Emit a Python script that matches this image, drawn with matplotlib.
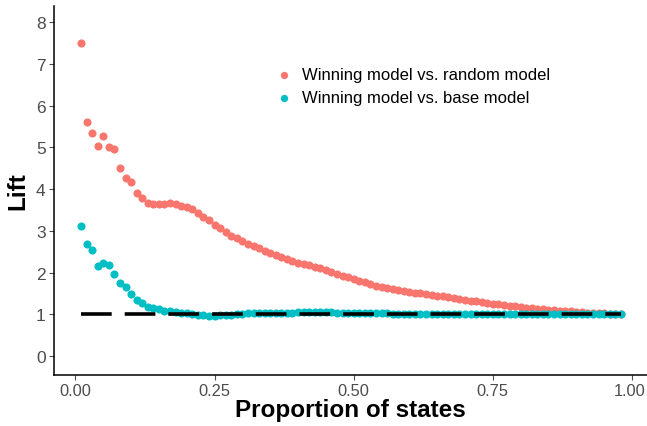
import matplotlib
matplotlib.use("Agg")
import matplotlib.pyplot as plt
from matplotlib.transforms import ScaledTranslation

plt.rcParams['font.family'] = ['Liberation Sans', 'DejaVu Sans']

# proportion of states, 0.01 .. 0.98
proportion = [round(0.01 * i, 2) for i in range(1, 99)]

lift_random = [
    7.50, 5.62, 5.35, 5.03, 5.28, 5.02, 4.97, 4.50, 4.27, 4.17,
    3.90, 3.79, 3.66, 3.64, 3.64, 3.65, 3.67, 3.64, 3.60, 3.58,
    3.52, 3.43, 3.34, 3.25, 3.15, 3.06, 2.97, 2.88, 2.82, 2.75,
    2.69, 2.64, 2.59, 2.52, 2.47, 2.42, 2.37, 2.32, 2.28, 2.24,
    2.20, 2.17, 2.14, 2.10, 2.06, 2.01, 1.97, 1.93, 1.89, 1.85,
    1.81, 1.77, 1.73, 1.69, 1.66, 1.63, 1.60, 1.58, 1.56, 1.54,
    1.52, 1.50, 1.48, 1.47, 1.45, 1.43, 1.41, 1.39, 1.37, 1.35,
    1.33, 1.31, 1.29, 1.27, 1.25, 1.24, 1.22, 1.20, 1.19, 1.17,
    1.16, 1.15, 1.13, 1.12, 1.11, 1.10, 1.09, 1.08, 1.07, 1.06,
    1.05, 1.04, 1.03, 1.03, 1.02, 1.01, 1.01, 1.00,
]

lift_base = [
    3.12, 2.68, 2.54, 2.15, 2.23, 2.17, 1.96, 1.76, 1.65, 1.49,
    1.34, 1.26, 1.17, 1.15, 1.12, 1.09, 1.07, 1.05, 1.03, 1.02,
    1.00, 0.99, 0.98, 0.97, 0.97, 0.98, 0.99, 0.99, 1.00, 1.01,
    1.02, 1.02, 1.03, 1.03, 1.04, 1.04, 1.04, 1.04, 1.04, 1.05,
    1.05, 1.05, 1.06, 1.06, 1.05, 1.05, 1.04, 1.04, 1.03, 1.03,
    1.03, 1.02, 1.02, 1.02, 1.02, 1.02, 1.01, 1.01, 1.01, 1.01,
    1.01, 1.00, 1.00, 1.00, 1.00, 1.01, 1.01, 1.01, 1.00, 1.00,
    1.00, 1.00, 1.00, 1.00, 1.00, 1.00, 1.00, 1.00, 1.00, 1.00,
    1.00, 1.00, 1.00, 1.00, 1.00, 1.00, 1.00, 1.00, 1.00, 1.00,
    1.00, 1.00, 1.00, 1.00, 1.00, 1.00, 1.00, 1.00,
]

baseline = [1.0] * len(proportion)

x_ticks = [0.0, 0.25, 0.5, 0.75, 1.0]
x_tick_labels = ['0.00', '0.25', '0.50', '0.75', '1.00']
y_ticks = list(range(0, 9))

fig = plt.figure(figsize=(6.47, 4.27), dpi=100)
ax = fig.add_axes([54 / 647, 51 / 427, 593 / 647, 369 / 427])

ax.scatter(proportion, lift_random, s=34, color='#F8766D', linewidths=0,
           label='Winning model vs. random model', zorder=2)
ax.scatter(proportion, lift_base, s=34, color='#00BFC4', linewidths=0,
           label='Winning model vs. base model', zorder=2)
ax.plot(proportion, baseline, color='black', lw=2.6, dashes=(8.5, 3.6),
        zorder=3)

ax.set_xlim(-0.0385, 1.027)
ax.set_ylim(-0.455, 8.39)
ax.set_xticks(x_ticks)
ax.set_xticklabels(x_tick_labels)
ax.set_yticks(y_ticks)

for side in ['top', 'right']:
    ax.spines[side].set_visible(False)
for side in ['left', 'bottom']:
    ax.spines[side].set_linewidth(1.1)
    ax.spines[side].set_color('black')

ax.tick_params(axis='both', colors='#4D4D4D', length=3.5, width=0.8, pad=2.5)
ax.tick_params(axis='y', labelsize=12.5)
ax.tick_params(axis='x', labelsize=11.8)

# last x label sits right at the figure edge, nudge it in a little
last = ax.get_xticklabels()[-1]
last.set_transform(last.get_transform() + ScaledTranslation(-2 / 100, 0, fig.dpi_scale_trans))

ax.set_xlabel('Proportion of states', fontsize=17.5, fontweight='bold', labelpad=0)
ax.set_ylabel('Lift', fontsize=17.5, fontweight='bold', labelpad=5)

ax.legend(loc='upper left', bbox_to_anchor=(0.357, 0.857),
          bbox_transform=ax.transAxes, frameon=False, fontsize=12,
          handletextpad=0.5, labelspacing=0.48, markerscale=0.9,
          borderpad=0, handlelength=1.2)

fig.savefig('out.png', dpi=100)
